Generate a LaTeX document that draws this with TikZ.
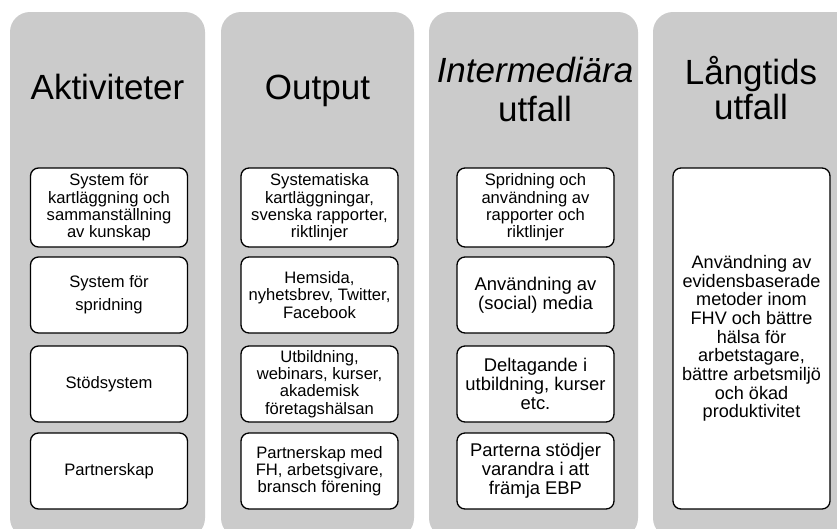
\documentclass[tikz,border=0pt]{standalone}
\usepackage{fontspec}
\setmainfont{Liberation Sans}
\definecolor{colgray}{RGB}{203,203,203}
\tikzset{
  colbg/.style={fill=colgray, draw=none, rounded corners=20pt},
  box/.style={draw=black, line width=1.3pt, fill=white, rounded corners=8pt,
    align=center, inner sep=0pt, minimum width=157pt, anchor=center},
  small/.style={font=\fontsize{16.6}{17.3}\selectfont},
  mid/.style={font=\fontsize{18.4}{19}\selectfont},
  big/.style={font=\fontsize{18.1}{18.7}\selectfont},
  head/.style={font=\fontsize{35}{40}\selectfont, anchor=base, inner sep=0pt}
}
\begin{document}
\begin{tikzpicture}[x=1pt,y=-1pt]
\clip (0,0) rectangle (837,528);
% columns
\fill[colbg] (10,12) rectangle (205,538);
\fill[colbg] (221,12) rectangle (414,538);
\fill[colbg] (429,12) rectangle (638,538);
\fill[colbg] (653,12) rectangle (862,538);
% headers
\node[head] (h1) at (107.5,99) {Aktiviteter};
\node[head] (h2) at (317.5,99) {Output};
\node[head] (h3a) at (535,82) {\itshape Intermediära};
\node[head] (h3b) at (535,121) {utfall};
\node[head] (h4a) at (751,84) {Långtids};
\node[head] (h4b) at (751,119) {utfall};
% column 1
\node[box, small, minimum height=79pt] (a1) at (109,207.5) {System för\\kartläggning och\\sammanställning\\av kunskap};
\node[box, font=\fontsize{16.6}{23}\selectfont, minimum height=76pt] (a2) at (109,295) {System för\\spridning};
\node[box, small, minimum height=76pt] (a3) at (109,384) {Stödsystem};
\node[box, small, minimum height=76pt] (a4) at (109,471) {Partnerskap};
% column 2
\node[box, small, minimum height=79pt] (b1) at (319.5,207.5) {Systematiska\\kartläggningar,\\svenska rapporter,\\riktlinjer};
\node[box, small, minimum height=76pt] (b2) at (319.5,295) {Hemsida,\\nyhetsbrev, Twitter,\\Facebook};
\node[box, small, minimum height=76pt] (b3) at (319.5,384) {Utbildning,\\webinars, kurser,\\akademisk\\företagshälsan};
\node[box, small, minimum height=76pt] (b4) at (319.5,471) {Partnerskap med\\FH, arbetsgivare,\\bransch förening};
% column 3
\node[box, small, minimum height=79pt] (c1) at (535.5,207.5) {Spridning och\\användning av\\rapporter och\\riktlinjer};
\node[box, mid, minimum height=76pt] (c2) at (535.5,295) {Användning av\\(social) media};
\node[box, mid, minimum height=76pt] (c3) at (535.5,384) {Deltagande i\\utbildning, kurser\\etc.};
\node[box, mid, minimum height=76pt] (c4) at (535.5,471) {Parterna stödjer\\varandra i att\\främja EBP};
% column 4
\node[box, big, minimum height=341pt] (d1) at (751.5,338.5) {Användning av\\evidensbaserade\\metoder inom\\FHV och bättre\\hälsa för\\arbetstagare,\\bättre arbetsmiljö\\och ökad\\produktivitet};
\end{tikzpicture}
\end{document}
